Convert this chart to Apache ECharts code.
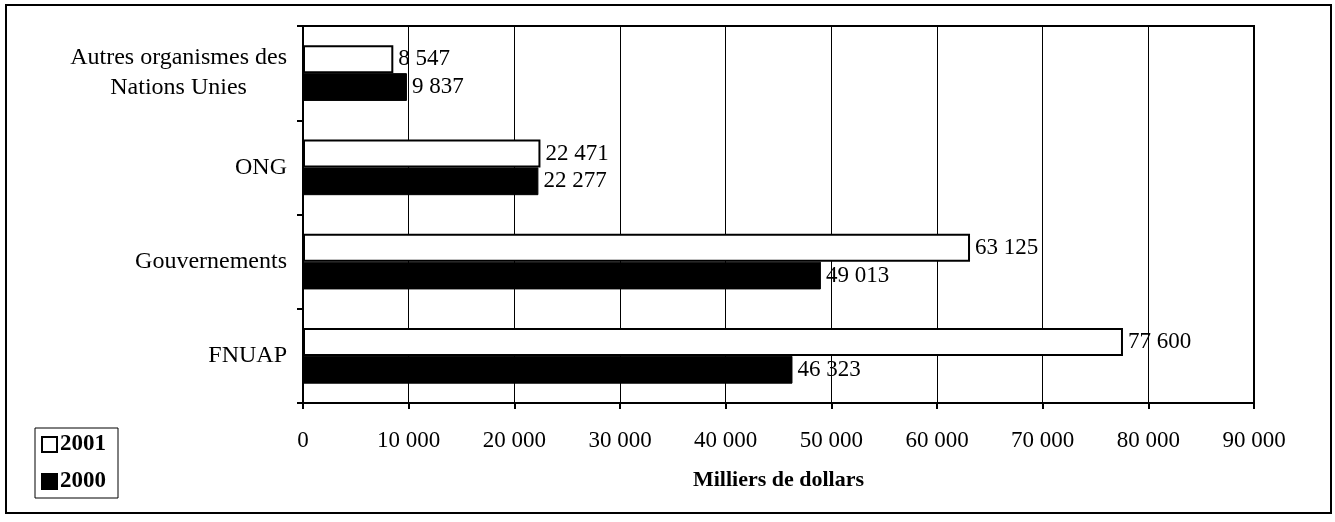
<!DOCTYPE html>
<html>
<head>
<meta charset="utf-8">
<script src="https://cdn.jsdelivr.net/npm/echarts@6/dist/echarts.min.js"></script>
<style>
html,body{margin:0;padding:0;background:#fff;}
#c{width:1335px;height:522px;}
</style>
</head>
<body>
<div id="c"></div>
<script>
const categories = ['FNUAP', 'Gouvernements', 'ONG', 'Autres organismes des\nNations Unies'];
const values2001 = [77600, 63125, 22471, 8547];
const values2000 = [46323, 49013, 22277, 9837];
const xTicks = { min: 0, max: 90000, interval: 10000 };
const axisTitle = 'Milliers de dollars';

const FONT = '"Liberation Serif", "Times New Roman", serif';
function fmt(v) { return String(v).replace(/\B(?=(\d{3})+(?!\d))/g, ' '); }

const chart = echarts.init(document.getElementById('c'));
chart.setOption({
  animation: false,
  backgroundColor: '#fff',
  graphic: [{
    type: 'rect', shape: { x: 6, y: 5, width: 1325, height: 508 },
    style: { fill: 'none', stroke: '#000', lineWidth: 2 }, z: 100
  }],
  grid: { left: 303, right: 81, top: 26, bottom: 119, show: true, borderColor: '#000', borderWidth: 2, backgroundColor: 'transparent' },
  legend: {
    orient: 'vertical', left: 35, top: 428,
    padding: [5, 12, 5, 6], itemGap: 14, itemWidth: 15, itemHeight: 15,
    borderColor: '#000', borderWidth: 1,
    icon: 'rect',
    data: ['2001', '2000'],
    textStyle: { fontFamily: FONT, fontSize: 23, fontWeight: 'bold', color: '#000', padding: [0, 0, 0, -2] }
  },
  xAxis: {
    type: 'value', min: xTicks.min, max: xTicks.max, interval: xTicks.interval,
    name: axisTitle, nameLocation: 'middle', nameGap: 66,
    nameTextStyle: { fontFamily: FONT, fontSize: 22, fontWeight: 'bold', color: '#000' },
    axisLine: { show: true, lineStyle: { color: '#000', width: 2 } },
    axisTick: { show: true, length: 6, lineStyle: { color: '#000', width: 2 } },
    axisLabel: { margin: 26, fontFamily: FONT, fontSize: 23, color: '#000', formatter: fmt },
    splitLine: { show: true, lineStyle: { color: '#000', width: 1 } }
  },
  yAxis: {
    type: 'category', data: categories,
    axisLine: { show: true, lineStyle: { color: '#000', width: 2 } },
    axisTick: { show: true, length: 6, lineStyle: { color: '#000', width: 2 } },
    axisLabel: {
      margin: 16, fontFamily: FONT, fontSize: 24, color: '#000', lineHeight: 30,
      formatter: v => v.indexOf('\n') >= 0 ? v.split('\n').map(s => '{c|' + s + '}').join('\n') : v,
      rich: { c: { fontFamily: FONT, fontSize: 24, color: '#000', lineHeight: 30, align: 'center' } }
    },
    splitLine: { show: false }
  },
  series: [
    {
      name: '2001', type: 'bar', data: values2001, barGap: '0%', barCategoryGap: '41%',
      itemStyle: { color: '#fff', borderColor: '#000', borderWidth: 2 },
      label: { show: true, position: 'right', distance: 5, fontFamily: FONT, fontSize: 23, color: '#000', formatter: p => fmt(p.value) }
    },
    {
      name: '2000', type: 'bar', data: values2000, barGap: '0%', barCategoryGap: '41%',
      itemStyle: { color: '#000', borderColor: '#000', borderWidth: 1 },
      label: { show: true, position: 'right', distance: 5, fontFamily: FONT, fontSize: 23, color: '#000', formatter: p => fmt(p.value) }
    }
  ]
});
</script>
</body>
</html>
